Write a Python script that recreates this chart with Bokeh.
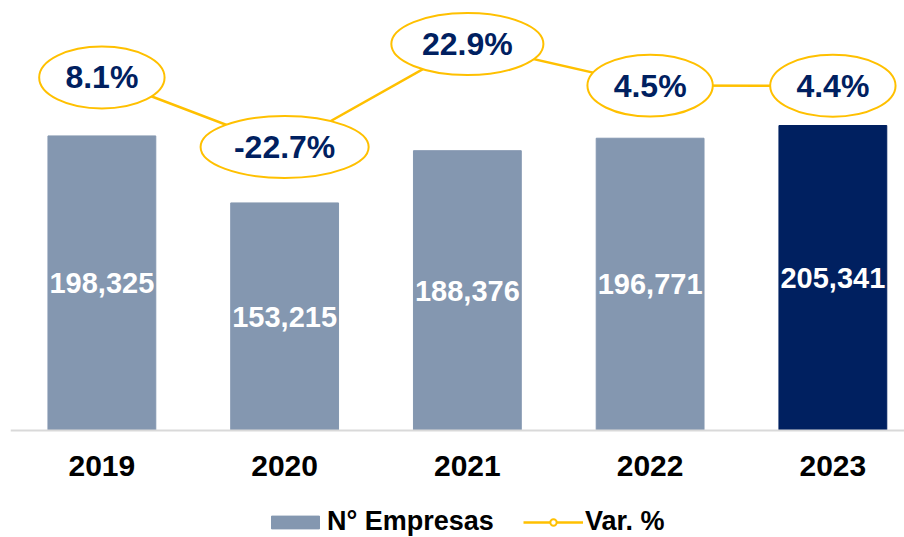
from bokeh.plotting import figure
from bokeh.models import Range1d, FixedTicker, Legend, LegendItem, ColumnDataSource
from bokeh.core.properties import value
from bokeh.embed import file_html
from bokeh.resources import INLINE

# ---- data ----
years = ["2019", "2020", "2021", "2022", "2023"]
empresas = [198325, 153215, 188376, 196771, 205341]
var_pct = [8.1, -22.7, 22.9, 4.5, 4.4]

BAR = "#8497B0"
BAR_HI = "#002060"
GOLD = "#FFC000"
NAVY = "#002060"
FONT = "Liberation Sans"

x = list(range(len(years)))
emp_labels = [f"{v:,}" for v in empresas]
pct_labels = [f"{v:.1f}%" for v in var_pct]
bar_colors = [BAR] * (len(years) - 1) + [BAR_HI]

# approximate Arial-bold advance widths (em) to size the callout ellipses
CW = {"0": .556, "1": .556, "2": .556, "3": .556, "4": .556, "5": .556, "6": .556,
      "7": .556, "8": .556, "9": .556, ".": .278, "%": .889, "-": .333}
def text_w(s, size):
    return sum(CW.get(c, .556) for c in s) * size
ell_w = [1.5 * text_w(s, 32) + 16 for s in pct_labels]

src = ColumnDataSource(dict(
    x=x, emp=empresas, half=[v / 2 for v in empresas], emp_lbl=emp_labels,
    color=bar_colors, pct=var_pct, pct_lbl=pct_labels, ew=ell_w,
))

# frame covers the whole figure; the category axis sits at y = 0 inside it
p = figure(width=904, height=537,
           x_range=Range1d(-0.5, 4.392), y_range=Range1d(-72040, 289500),
           output_backend="svg", toolbar_location=None,
           y_axis_location=None,
           min_border_left=10, min_border_right=0, min_border_top=0, min_border_bottom=0)
p.extra_y_ranges = {"pct": Range1d(-195.7, 42.2)}
p.outline_line_color = None
p.xgrid.visible = False
p.ygrid.visible = False
p.background_fill_color = "white"
p.border_fill_color = "white"

bars = p.vbar(x="x", top="emp", width=0.59, color="color", source=src)
p.text(x="x", y="half", text="emp_lbl", source=src,
       text_color="white", text_font=value(FONT), text_font_style="bold",
       text_font_size="29px", text_align="center", text_baseline="middle")

ln = p.line(x="x", y="pct", source=src, y_range_name="pct",
            line_color=GOLD, line_width=2.5)
mk = p.scatter(x="x", y="pct", source=src, y_range_name="pct", size=12,
               fill_color="white", line_color=GOLD, line_width=2)
p.ellipse(x="x", y="pct", width="ew", height=62, source=src, y_range_name="pct",
          width_units="screen", height_units="screen",
          fill_color="white", line_color=GOLD, line_width=2)
p.text(x="x", y="pct", text="pct_lbl", source=src, y_range_name="pct",
       text_color=NAVY, text_font=value(FONT), text_font_style="bold",
       text_font_size="32px", text_align="center", text_baseline="middle")

ax = p.xaxis[0]
ax.fixed_location = 0
ax.ticker = FixedTicker(ticks=x)
ax.major_label_overrides = {i: y for i, y in zip(x, years)}
ax.major_tick_line_color = None
ax.minor_tick_line_color = None
ax.axis_line_color = "#D9D9D9"
ax.axis_line_width = 2
ax.major_label_text_font = FONT
ax.major_label_text_font_style = "bold"
ax.major_label_text_font_size = "30px"
ax.major_label_text_color = "black"
ax.major_label_standoff = 20

legend = Legend(items=[LegendItem(label="N° Empresas", renderers=[bars]),
                       LegendItem(label="Var. %", renderers=[ln, mk])],
                orientation="horizontal", location=(255, 0),
                label_text_font=FONT, label_text_font_style="bold",
                label_text_font_size="27px", label_text_color="black",
                glyph_width=60, glyph_height=16, spacing=29, label_standoff=2,
                border_line_color=None, background_fill_alpha=0,
                padding=0, margin=0)
p.add_layout(legend, "center")

open("out.html", "w").write(file_html(p, INLINE))
